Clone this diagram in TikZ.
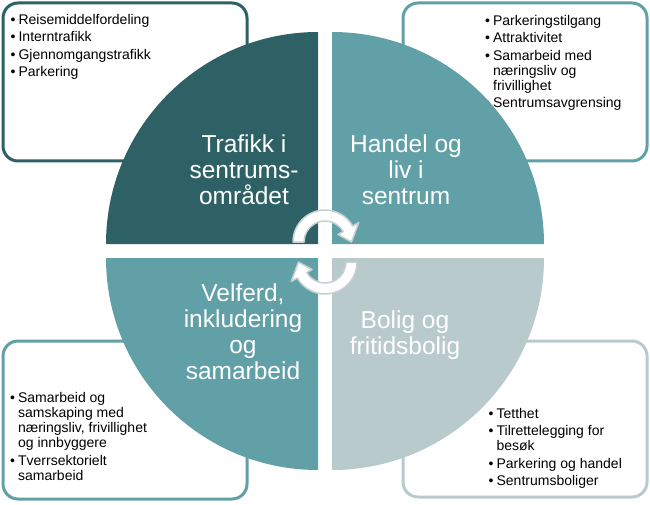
\documentclass[tikz,border=0pt]{standalone}
\usepackage{fontspec}
\setmainfont{Liberation Sans}
\definecolor{tealdark}{RGB}{45,97,102}
\definecolor{tealmid}{RGB}{98,160,168}
\definecolor{teallight}{RGB}{184,202,204}
\definecolor{arrowrim}{RGB}{196,208,210}
\newcommand{\blt}{\textbullet\hspace{3pt}}
\newcommand{\bltcont}{\phantom{\textbullet}\hspace{3pt}}
% circular arrow: centre, start angle, end angle, tip angle
\newcommand{\cyclearc}[4]{%
  \path[carrow, shift={#1}] (#2:32) arc[start angle=#2, end angle=#3, radius=32]
    -- (#3:39) -- (#4:26.5) -- (#3:15) -- (#3:21)
    arc[start angle=#3, end angle=#2, radius=21] -- cycle;}
\tikzset{
  frame/.style={draw=#1, line width=3pt, rounded corners=15pt, fill=white},   % list boxes
  qlabel/.style={text=white, font=\fontsize{24.5}{26}\selectfont, align=center,
    anchor=north, inner sep=0pt},                                              % quadrant titles
  blist/.style={text=black, font=\fontsize{14}{15}\selectfont, align=left,
    anchor=north west, inner sep=0pt},                                         % bullet lists
  carrow/.style={fill=white, draw=arrowrim, line width=1.5pt, line join=round}, % centre arrows
}
\begin{document}
\begin{tikzpicture}[x=1pt, y=1pt]
  \useasboundingbox (0,0) rectangle (650,504);
  % list boxes
  \draw[frame=tealdark] (3,343) rectangle (247,501);
  \draw[frame=tealmid] (403,343) rectangle (647,501);
  \draw[frame=tealmid] (3,5) rectangle (247,163);
  \draw[frame=teallight] (403,7) rectangle (647,163);
  \node[blist] (listtl) at (10.5,490) {\blt Reisemiddelfordeling\\[2.5pt]
    \blt Interntrafikk\\[2.5pt] \blt Gjennomgangstrafikk\\[2.5pt] \blt Parkering};
  \node[blist] (listtr) at (485,489) {\blt Parkeringstilgang\\[2.5pt]
    \blt Attraktivitet\\[2.5pt] \blt Samarbeid med\\ \bltcont næringsliv og\\
    \bltcont frivillighet\\[2.5pt] \blt Sentrumsavgrensing};
  \node[blist] (listbl) at (10,111.5) {\blt Samarbeid og\\ \bltcont samskaping med\\
    \bltcont næringsliv, frivillighet\\ \bltcont og innbyggere\\[2.5pt]
    \blt Tverrsektorielt\\ \bltcont samarbeid};
  \node[blist] (listbr) at (488.5,96) {\blt Tetthet\\[2.5pt] \blt Tilrettelegging for\\
    \bltcont besøk\\[2.5pt] \blt Parkering og handel\\[2.5pt] \blt Sentrumsboliger};
  % quarter discs
  \fill[tealdark] (318,260) -- (106,260) arc[start angle=180, end angle=90, radius=212] -- cycle;
  \fill[tealmid] (332,260) -- (332,472) arc[start angle=90, end angle=0, radius=212] -- cycle;
  \fill[tealmid] (318,246) -- (318,34) arc[start angle=270, end angle=180, radius=212] -- cycle;
  \fill[teallight] (332,246) -- (544,246) arc[start angle=0, end angle=-90, radius=212] -- cycle;
  \node[qlabel] (trafikk) at (244,369) {Trafikk i\\sentrums-\\området};
  \node[qlabel] (handel) at (406,369) {Handel og\\liv i\\sentrum};
  \node[qlabel] (velferd) at (243,220) {Velferd,\\inkludering\\og\\samarbeid};
  \node[qlabel] (bolig) at (405,193) {Bolig og\\fritidsbolig};
  % centre arrows
  \cyclearc{(325,262)}{180}{30}{0}
  \cyclearc{(325,242)}{0}{-150}{-180}
\end{tikzpicture}
\end{document}
